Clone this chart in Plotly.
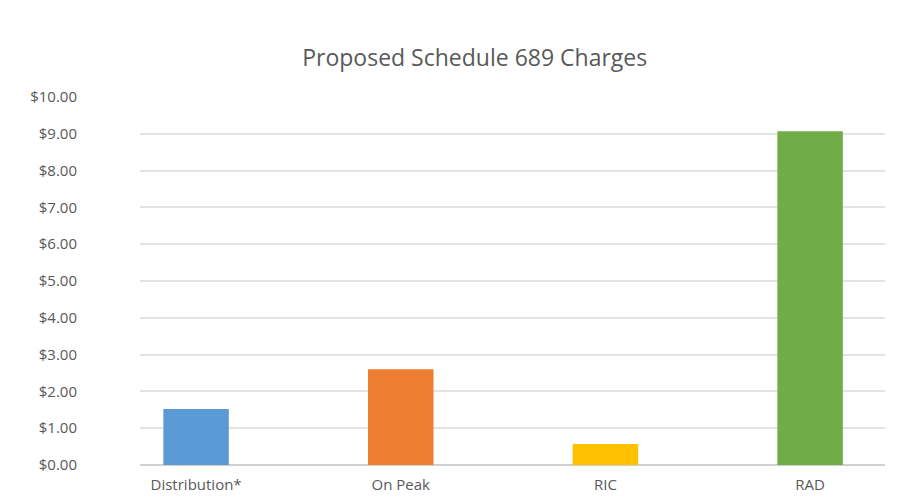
import plotly.graph_objects as go

categories = ["Distribution*", "On Peak", "RIC", "RAD"]
values = [1.52, 2.60, 0.57, 9.07]
colors = ["#5B9BD5", "#ED7D31", "#FFC000", "#70AD47"]
tick_vals = [0, 1, 2, 3, 4, 5, 6, 7, 8, 9, 10]
tick_text = ["$%.2f" % v for v in tick_vals]

FONT = "Open Sans, sans-serif"

fig = go.Figure()
fig.add_trace(go.Bar(
    x=list(range(len(categories))), y=values,
    marker=dict(color=colors, line=dict(width=0)),
    width=0.32,
    hovertemplate="%{y:$.2f}<extra></extra>",
))

fig.update_layout(
    width=920, height=503,
    margin=dict(l=140, r=35, t=97, b=38),
    paper_bgcolor="white", plot_bgcolor="white",
    title=dict(text="Proposed Schedule 689 Charges", x=0.516, xanchor="center",
               y=0.885, yanchor="middle",
               font=dict(family=FONT, size=23, color="#595959")),
    font=dict(family=FONT, color="#595959"),
    showlegend=False,
    xaxis=dict(
        range=[-0.274, 3.366],
        tickvals=list(range(len(categories))), ticktext=categories,
        showgrid=False, zeroline=False, showline=False,
        tickfont=dict(size=15, color="#595959"),
        ticks="", fixedrange=True,
        ticklabelstandoff=9, automargin=False,
    ),
    yaxis=dict(
        range=[0, 10], tickvals=tick_vals, ticktext=tick_text,
        showgrid=True, gridcolor="#E3E3E3", gridwidth=1.5,
        zeroline=True, zerolinecolor="#D0D0D0", zerolinewidth=1.5,
        showline=False, ticks="",
        tickfont=dict(size=15, color="#595959"),
        ticklabelstandoff=62, automargin=False,
    ),
)

fig.write_html("out.html")
